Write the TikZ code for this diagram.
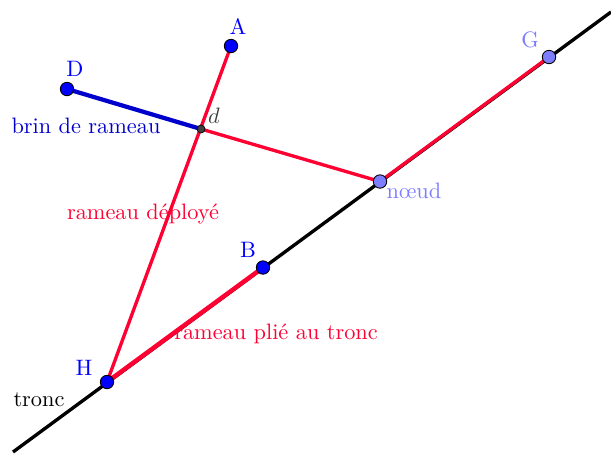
\documentclass[tikz,border=0pt]{standalone}
\begin{document}
\begin{tikzpicture}[x=0.448pt,y=-0.448pt,
  trunkline/.style={line width=1.5pt,black},
  redline/.style={line width=1.5pt,rouge},
  blueline/.style={line width=1.9pt,bleu},
  pt/.style={circle,draw=black,line width=0.4pt,fill=#1,inner sep=0pt,minimum size=6pt},
  smallpt/.style={circle,draw=black,line width=0.3pt,fill=gris,inner sep=0pt,minimum size=3.6pt},
  lab/.style={inner sep=1pt,font=\normalsize}]
\definecolor{rouge}{RGB}{255,0,51}
\definecolor{bleu}{RGB}{0,0,204}
\definecolor{ptbleu}{RGB}{0,0,255}
\definecolor{clair}{RGB}{125,125,255}
\definecolor{gris}{RGB}{64,64,64}
\useasboundingbox (0,0) rectangle (611,458);
\coordinate (T1) at (13,452);
\coordinate (T2) at (611,12);
\coordinate (pA) at (231,46);
\coordinate (pD) at (67,89);
\coordinate (pd) at (201,129);
\coordinate (pN) at (380,181.5);
\coordinate (pG) at (549,57);
\coordinate (pB) at (263,267.5);
\coordinate (pH) at (107,382);
\draw[trunkline] (T1) -- (T2);
\draw[redline,line width=2pt] (pH) -- (pB);
\draw[redline] (pN) -- (pG);
\draw[redline] (pH) -- (pA);
\draw[redline] (pd) -- (pN);
\draw[blueline] (pD) -- (pd);
\node[pt=ptbleu] (A) at (pA) {};
\node[pt=ptbleu] (D) at (pD) {};
\node[pt=ptbleu] (B) at (pB) {};
\node[pt=ptbleu] (H) at (pH) {};
\node[pt=clair] (N) at (pN) {};
\node[pt=clair] (G) at (pG) {};
\node[smallpt] (d) at (pd) {};
\node[lab,text=ptbleu] (lA) at (238,27) {A};
\node[lab,text=ptbleu] (lD) at (75,69) {D};
\node[lab,text=gris] (ld) at (214,116) {$d$};
\node[lab,text=clair,anchor=west] (lN) at (384,191) {n\oe ud};
\node[lab,text=clair] (lG) at (530,40) {G};
\node[lab,text=ptbleu] (lB) at (248,250) {B};
\node[lab,text=ptbleu] (lH) at (84,368) {H};
\node[lab,text=bleu] (lbr) at (86,126) {brin de rameau};
\node[lab,text=rouge] (lrd) at (143,214) {rameau d\'eploy\'e};
\node[lab,text=rouge] (lrp) at (276,334) {rameau pli\'e au tronc};
\node[lab,text=black] (ltr) at (39,400) {tronc};
\end{tikzpicture}
\end{document}
